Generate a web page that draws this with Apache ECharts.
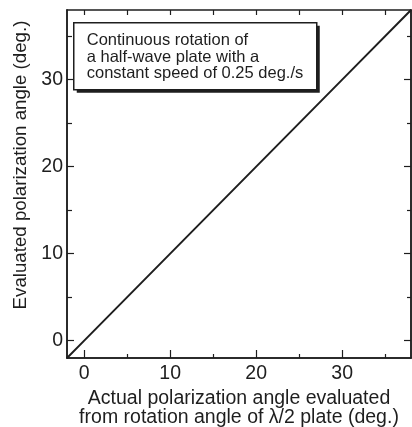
<!DOCTYPE html>
<html>
<head>
<meta charset="utf-8">
<script src="https://cdn.jsdelivr.net/npm/echarts@6/dist/echarts.min.js"></script>
<style>
	html, body { margin: 0; padding: 0; background: #fff; }
	#chart { width: 412px; height: 427px; }
</style>
</head>
<body>
	<div id="chart"></div>
	<script>
	// data
	var actualAngle = [-2, 0, 10, 20, 30, 38];
	var evaluatedAngle = [-2, 0, 10, 20, 30, 38];
	var majorTicks = [0, 10, 20, 30];
	var minorTicks = [5, 15, 25, 35];
	var allTicks = [0, 5, 10, 15, 20, 25, 30, 35];
	var noteText = ["Continuous rotation of", "a half-wave plate with a", "constant speed of 0.25 deg./s"];

	var ink = "#1e1e1e";
	var font = "Liberation Sans, Arial, sans-serif";

	function axisBase(pos, ticks, len, labels, margin) {
		return {
			type: "value",
			position: pos,
			min: -2,
			max: 38,
			axisLine: { show: true, onZero: false, lineStyle: { color: ink, width: 1.5 } },
			axisTick: { show: true, inside: true, length: len, customValues: ticks, lineStyle: { color: ink, width: 1.2 } },
			axisLabel: labels ? { show: true, customValues: labels, fontSize: 19.5, color: ink, fontFamily: font, margin: margin } : { show: false },
			splitLine: { show: false }
		};
	}

	var xMain = axisBase("bottom", majorTicks, 8, majorTicks, 6);
	xMain.name = "Actual polarization angle evaluated\nfrom rotation angle of \u03bb/2 plate (deg.)";
	xMain.nameLocation = "middle";
	xMain.nameGap = 29;
	xMain.nameTextStyle = { fontSize: 19.5, color: ink, fontFamily: font, lineHeight: 19 };

	var yMain = axisBase("left", majorTicks, 7, majorTicks, 4);
	yMain.name = "Evaluated polarization angle (deg.)";
	yMain.nameLocation = "middle";
	yMain.nameGap = 34;
	yMain.nameTextStyle = { fontSize: 18.7, color: ink, fontFamily: font, padding: [0, 0, 0, 38] };

	var chart = echarts.init(document.getElementById("chart"));
	chart.setOption({
		animation: false,
		backgroundColor: "#fff",
		grid: { left: 67, right: 1, top: 10, bottom: 69, containLabel: false, outerBoundsMode: "none" },
		graphic: [{
			type: "group",
			left: 73,
			top: 22,
			children: [{
				type: "rect",
				shape: { x: 3, y: 3, width: 243, height: 67 },
				style: { fill: ink }
			}, {
				type: "rect",
				shape: { x: 0, y: 0, width: 243, height: 67 },
				style: { fill: "#fff", stroke: ink, lineWidth: 1.5 }
			}, {
				type: "text",
				x: 13,
				y: 10,
				style: { text: noteText.join("\n"), fill: ink, font: "16.5px " + font, lineHeight: 16.3 }
			}]
		}],
		xAxis: [
			xMain,
			axisBase("bottom", minorTicks, 4, null),
			axisBase("top", allTicks, 5, null)
		],
		yAxis: [
			yMain,
			axisBase("left", minorTicks, 5, null),
			axisBase("right", majorTicks, 7, null),
			axisBase("right", minorTicks, 4, null)
		],
		series: [{
			type: "line",
			xAxisIndex: 0,
			yAxisIndex: 0,
			data: actualAngle.map(function (x, i) { return [x, evaluatedAngle[i]]; }),
			symbol: "none",
			clip: true,
			lineStyle: { color: ink, width: 2 }
		}]
	});
	</script>
</body>
</html>
